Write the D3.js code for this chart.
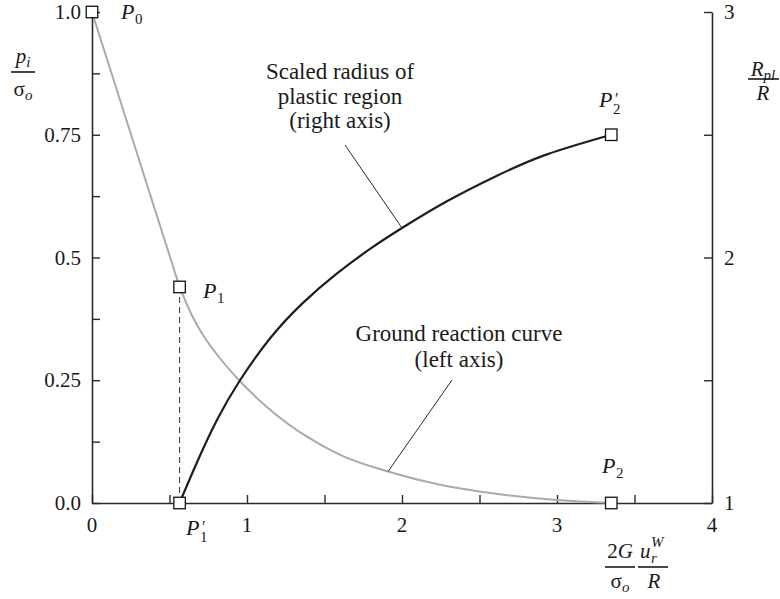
<!DOCTYPE html>
<html>
<head>
<meta charset="utf-8">
<script src="https://cdn.jsdelivr.net/npm/d3@7/dist/d3.min.js"></script>
<style>
  html, body { margin: 0; padding: 0; background: #fff; }
</style>
</head>
<body>
<svg id="chart" width="780" height="599" font-family="'Liberation Serif', 'DejaVu Serif', serif"></svg>
<script>
// Ground reaction curve (left axis): elastic branch P0 -> P1, plastic branch P1 -> P2
const grcElastic = [[0, 1.0], [0.565, 0.44]];
const grcPlastic = [
  [0.565, 0.44], [0.64, 0.385], [0.716, 0.342], [0.8, 0.305], [0.955, 0.248],
  [1.168, 0.185], [1.387, 0.135], [1.6, 0.098], [1.91, 0.064], [2.245, 0.037],
  [2.677, 0.016], [3.0, 0.006], [3.35, 0.0]
];
// Scaled radius of plastic region (right axis)
const plasticRadius = [
  [0.565, 1.0], [0.684, 1.175], [0.813, 1.346], [0.955, 1.5], [1.148, 1.67],
  [1.361, 1.815], [1.581, 1.935], [1.794, 2.035], [2.0, 2.12], [2.29, 2.229],
  [2.613, 2.333], [2.935, 2.42], [3.35, 2.5]
];
// Marked points: [name, x, value, axis]
const markerPoints = [
  ["P0", 0, 1.0, "left"], ["P1", 0.565, 0.44, "left"], ["P1'", 0.565, 0.0, "left"],
  ["P2", 3.35, 0.0, "left"], ["P2'", 3.35, 2.5, "right"]
];
// Ticks
const xMajor = [0, 1, 2, 3, 4];
const xMinor = [0.5, 1.5, 2.5, 3.5];
const leftMajor = [0, 0.25, 0.5, 0.75, 1.0];
const leftLabels = ["0.0", "0.25", "0.5", "0.75", "1.0"];
const leftMinor = [0.125, 0.375, 0.625, 0.875];
const rightMajor = [1, 2, 3];
const rightMinor = [1.5, 2.5];

const svg = d3.select("#chart");
const X0 = 92, X1 = 712, Y0 = 503, Y1 = 12;
const x = d3.scaleLinear().domain([0, 4]).range([X0, X1]);
const yL = d3.scaleLinear().domain([0, 1]).range([Y0, Y1]);
const yR = d3.scaleLinear().domain([1, 3]).range([Y0, Y1]);
const ink = "#2a2a2a";
const txt = "#1a1a1a";
const TL = 8;

// Axes with inward ticks
const gx = svg.append("g").attr("transform", `translate(0,${Y0})`)
  .call(d3.axisBottom(x).tickValues(xMajor.concat(xMinor)).tickSizeInner(-TL).tickSizeOuter(0).tickFormat(""));
const gl = svg.append("g").attr("transform", `translate(${X0},0)`)
  .call(d3.axisLeft(yL).tickValues(leftMajor.concat(leftMinor)).tickSizeInner(-TL).tickSizeOuter(0).tickFormat(""));
const gr = svg.append("g").attr("transform", `translate(${X1},0)`)
  .call(d3.axisRight(yR).tickValues(rightMajor.concat(rightMinor)).tickSizeInner(-TL).tickSizeOuter(0).tickFormat(""));
[gx, gl, gr].forEach(g => {
  g.attr("font-family", null);
  g.selectAll("path.domain").attr("stroke", ink).attr("stroke-width", 1.6);
  g.selectAll(".tick line").attr("stroke", ink).attr("stroke-width", 1.4);
});

// Tick labels
const FS = 21;
const FA = 23;
svg.append("g").selectAll("text").data(xMajor).join("text")
  .attr("x", d => x(d)).attr("y", 532).attr("text-anchor", "middle").attr("fill", txt)
  .attr("font-size", FS).text(d => d);
svg.append("g").selectAll("text").data(leftMajor).join("text")
  .attr("x", 81).attr("y", d => yL(d) + 7).attr("text-anchor", "end").attr("fill", txt)
  .attr("font-size", FS).text((d, i) => leftLabels[i]);
svg.append("g").selectAll("text").data(rightMajor).join("text")
  .attr("x", 724).attr("y", d => yR(d) + 7).attr("text-anchor", "start").attr("fill", txt)
  .attr("font-size", FS).text(d => d);

// Curves
const lineL = d3.line().x(d => x(d[0])).y(d => yL(d[1]));
const lineLc = d3.line().x(d => x(d[0])).y(d => yL(d[1])).curve(d3.curveMonotoneX);
const lineRc = d3.line().x(d => x(d[0])).y(d => yR(d[1])).curve(d3.curveNatural);

svg.append("path").attr("d", lineL(grcElastic)).attr("fill", "none")
  .attr("stroke", "#aaaaaa").attr("stroke-width", 2);
svg.append("path").attr("d", lineLc(grcPlastic)).attr("fill", "none")
  .attr("stroke", "#aaaaaa").attr("stroke-width", 2);
svg.append("path").attr("d", lineRc(plasticRadius)).attr("fill", "none")
  .attr("stroke", "#1e1e1e").attr("stroke-width", 2.2);

// Dashed drop line P1 -> P1'
const p1 = markerPoints[1];
svg.append("line").attr("x1", x(p1[1])).attr("x2", x(p1[1]))
  .attr("y1", yL(p1[2])).attr("y2", yL(0))
  .attr("stroke", "#444").attr("stroke-width", 1.1).attr("stroke-dasharray", "6,4");

// Leader lines for annotations
svg.append("line").attr("x1", 345).attr("y1", 145).attr("x2", x(2.0)).attr("y2", yR(2.12))
  .attr("stroke", ink).attr("stroke-width", 1);
svg.append("line").attr("x1", 452).attr("y1", 380).attr("x2", x(1.91)).attr("y2", yL(0.064))
  .attr("stroke", ink).attr("stroke-width", 1);

// Markers
const S = 11.5;
svg.append("g").selectAll("rect").data(markerPoints).join("rect")
  .attr("x", d => x(d[1]) - S / 2)
  .attr("y", d => (d[3] === "left" ? yL(d[2]) : yR(d[2])) - S / 2)
  .attr("width", S).attr("height", S)
  .attr("fill", "#fff").attr("stroke", "#111").attr("stroke-width", 1.3);

// Point labels: italic P with upright subscript, optional prime stacked above it
function pLabel(px, py, sub, prime) {
  const g = svg.append("g").attr("fill", txt);
  g.append("text").attr("x", px).attr("y", py).attr("font-size", 22)
    .attr("font-style", "italic").text("P");
  if (prime) {
    g.append("text").attr("x", px + 16).attr("y", py - 3).attr("font-size", 16).text("′");
  }
  g.append("text").attr("x", px + 14).attr("y", py + (prime ? 7 : 5)).attr("font-size", 15).text(sub);
}
pLabel(121, 19, "0", false);
pLabel(203, 298, "1", false);
pLabel(186, 535, "1", true);
pLabel(602, 473, "2", false);
pLabel(599, 107, "2", true);

// Annotation text
const ann1 = ["Scaled radius of", "plastic region", "(right axis)"];
svg.append("g").selectAll("text").data(ann1).join("text")
  .attr("x", 340).attr("y", (d, i) => 79 + i * 24.5).attr("text-anchor", "middle").attr("fill", txt)
  .attr("font-size", FA).text(d => d);
const ann2 = ["Ground reaction curve", "(left axis)"];
svg.append("g").selectAll("text").data(ann2).join("text")
  .attr("x", 459).attr("y", (d, i) => 341 + i * 26).attr("text-anchor", "middle").attr("fill", txt)
  .attr("font-size", FA).text(d => d);

// Stacked fraction helper
function frac(cx, numY, lineY, denY, x1, x2, num, den) {
  const n = svg.append("text").attr("x", cx).attr("y", numY).attr("text-anchor", "middle")
    .attr("font-size", FS).attr("fill", txt);
  num(n);
  svg.append("line").attr("x1", x1).attr("x2", x2).attr("y1", lineY).attr("y2", lineY)
    .attr("stroke", txt).attr("stroke-width", 1.6);
  const d = svg.append("text").attr("x", cx).attr("y", denY).attr("text-anchor", "middle")
    .attr("font-size", FS).attr("fill", txt);
  den(d);
}
// Left axis title: p_i / σ_o
frac(23, 63, 72, 96, 11, 35,
  t => { t.append("tspan").attr("font-style", "italic").text("p");
         t.append("tspan").attr("font-style", "italic").attr("font-size", 15).attr("dy", 4).text("i"); },
  t => { t.append("tspan").text("σ");
         t.append("tspan").attr("font-style", "italic").attr("font-size", 15).attr("dy", 4).text("o"); });

// Right axis title: R_pl / R
frac(763, 76, 79, 100, 748, 779,
  t => { t.append("tspan").attr("font-style", "italic").text("R");
         t.append("tspan").attr("font-style", "italic").attr("font-size", 15).attr("dy", 4).text("pl"); },
  t => { t.append("tspan").attr("font-style", "italic").text("R"); });

// x-axis title: (2G/σ_o)(u_r^W/R)
frac(620, 558, 567, 588, 605, 635,
  t => { t.append("tspan").text("2");
         t.append("tspan").attr("font-style", "italic").text("G"); },
  t => { t.append("tspan").text("σ");
         t.append("tspan").attr("font-style", "italic").attr("font-size", 15).attr("dy", 4).text("o"); });
svg.append("line").attr("x1", 638).attr("x2", 668).attr("y1", 567).attr("y2", 567)
  .attr("stroke", txt).attr("stroke-width", 1.6);
svg.append("text").attr("x", 640).attr("y", 558).attr("font-size", FS).attr("fill", txt)
  .attr("font-style", "italic").text("u");
svg.append("text").attr("x", 651).attr("y", 547).attr("font-size", 15).attr("fill", txt)
  .attr("font-style", "italic").text("W");
svg.append("text").attr("x", 651).attr("y", 563).attr("font-size", 15).attr("fill", txt)
  .attr("font-style", "italic").text("r");
svg.append("text").attr("x", 654).attr("y", 588).attr("text-anchor", "middle").attr("font-size", FS)
  .attr("fill", txt).attr("font-style", "italic").text("R");
</script>
</body>
</html>
